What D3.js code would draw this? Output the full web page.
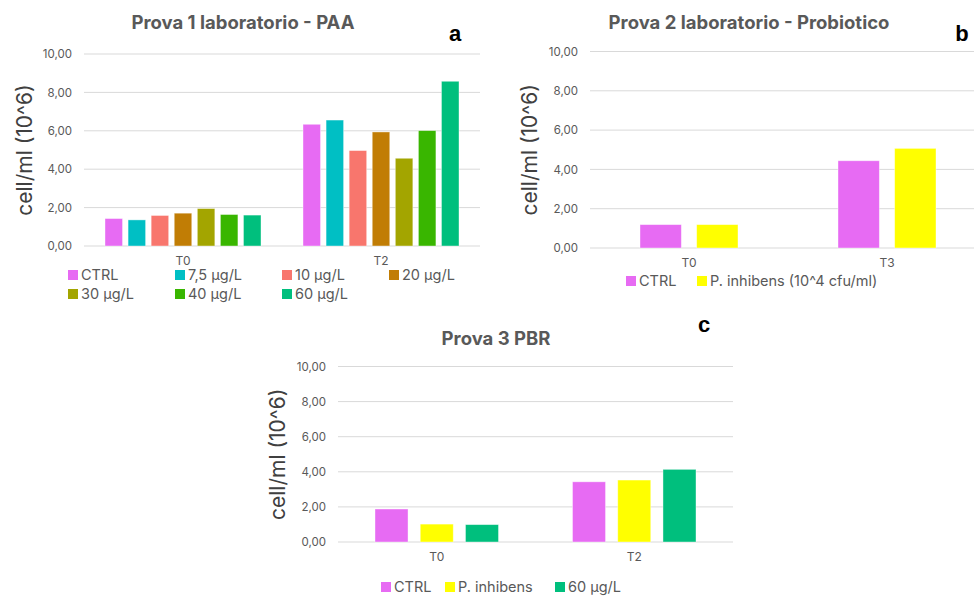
<!DOCTYPE html>
<html>
<head>
<meta charset="utf-8">
<script src="https://cdn.jsdelivr.net/npm/d3@7"></script>
<style>
  body { margin: 0; background: #fff; }
  svg { display: block; font-family: Inter, "Noto Sans", sans-serif; }
</style>
</head>
<body>
<svg id="chart" width="974" height="596"></svg>
<script>
// ---- Data ----
const yTicks = [0, 2, 4, 6, 8, 10];

// Chart a: Prova 1 laboratorio - PAA
const categoriesA = ["T0", "T2"];
const seriesA = ["CTRL", "7,5 µg/L", "10 µg/L", "20 µg/L", "30 µg/L", "40 µg/L", "60 µg/L"];
const valuesA = [
  [1.43, 6.34],   // CTRL
  [1.36, 6.56],   // 7,5
  [1.59, 4.97],   // 10
  [1.71, 5.94],   // 20
  [1.95, 4.57],   // 30
  [1.64, 6.01],   // 40
  [1.61, 8.58]    // 60
];
const colorsA = ["#E76BF3", "#00BFC4", "#F8766D", "#C17D05", "#A3A500", "#39B600", "#00BF7D"];

// Chart b: Prova 2 laboratorio - Probiotico
const categoriesB = ["T0", "T3"];
const seriesB = ["CTRL", "P. inhibens (10^4 cfu/ml)"];
const valuesB = [
  [1.19, 4.44],
  [1.19, 5.07]
];
const colorsB = ["#E76BF3", "#FFFF00"];

// Chart c: Prova 3 PBR
const categoriesC = ["T0", "T2"];
const seriesC = ["CTRL", "P. inhibens", "60 µg/L"];
const valuesC = [
  [1.88, 3.43],
  [1.02, 3.53],
  [0.99, 4.14]
];
const colorsC = ["#E76BF3", "#FFFF00", "#00BF7D"];

// ---- Drawing ----
const svg = d3.select("#chart");
const fmt = v => d3.format(".2f")(v).replace(".", ",");

function drawChart(cfg) {
  const g = svg.append("g");
  const y = d3.scaleLinear().domain([0, 10]).range([cfg.y0, cfg.y1]);
  const x0 = d3.scaleBand().domain(cfg.categories).range([cfg.x0, cfg.x1]).padding(0);
  const inner = d3.scaleBand().domain(cfg.series)
    .range([cfg.innerPad, x0.bandwidth() - cfg.innerPad]).paddingInner(cfg.barGap);

  // gridlines
  g.selectAll(".grid").data(yTicks).join("line")
    .attr("x1", cfg.x0).attr("x2", cfg.x1)
    .attr("y1", d => y(d)).attr("y2", d => y(d))
    .attr("stroke", "#D9D9D9").attr("stroke-width", 1);

  // y axis via d3 axis (labels only)
  const yAxis = d3.axisLeft(y).tickValues(yTicks).tickFormat(fmt).tickSize(0).tickPadding(12);
  const ya = g.append("g").attr("transform", `translate(${cfg.x0},0)`).call(yAxis);
  ya.select(".domain").remove();
  ya.selectAll("text").attr("fill", "#595959").style("font-size", "11.5px")
    .style("font-family", "Inter, 'Noto Sans', sans-serif");

  // x axis labels
  const xAxis = d3.axisBottom(x0).tickSize(0).tickPadding(cfg.xLabelPad);
  const xa = g.append("g").attr("transform", `translate(0,${cfg.y0})`).call(xAxis);
  xa.select(".domain").remove();
  xa.selectAll("text").attr("fill", "#595959").style("font-size", "12px")
    .style("font-family", "Inter, 'Noto Sans', sans-serif");

  // bars
  cfg.series.forEach((s, si) => {
    g.selectAll(null).data(cfg.categories).join("rect")
      .attr("x", c => x0(c) + inner(s))
      .attr("width", inner.bandwidth())
      .attr("y", (c, ci) => y(cfg.values[si][ci]))
      .attr("height", (c, ci) => y(0) - y(cfg.values[si][ci]))
      .attr("fill", cfg.colors[si])
      .attr("stroke", "#ffffff").attr("stroke-opacity", 0.5).attr("stroke-width", 0.8);
  });

  // title
  g.append("text").attr("x", cfg.titleX).attr("y", cfg.titleY)
    .attr("text-anchor", "middle").attr("fill", "#595959")
    .style("font-size", "18.5px").style("font-weight", "bold")
    .text(cfg.title);

  // panel letter
  g.append("text").attr("x", cfg.letterX).attr("y", cfg.letterY)
    .attr("text-anchor", "middle").attr("fill", "#000")
    .style("font-size", "22px").style("font-weight", "bold")
    .style("font-family", "Arial, 'Liberation Sans', sans-serif")
    .text(cfg.letter);

  // y axis title
  g.append("text")
    .attr("transform", `translate(${cfg.yTitleX},${(cfg.y0 + cfg.y1) / 2}) rotate(-90)`)
    .attr("text-anchor", "middle").attr("fill", "#404040")
    .style("font-size", "21px")
    .text("cell/ml (10^6)");

  // legend
  cfg.series.forEach((s, si) => {
    const pos = cfg.legendPos[si];
    g.append("rect").attr("x", pos[0]).attr("y", pos[1] - 10)
      .attr("width", 10).attr("height", 10).attr("fill", cfg.colors[si]);
    g.append("text").attr("x", pos[0] + 13).attr("y", pos[1])
      .attr("fill", "#595959").style("font-size", "14.5px").text(s);
  });
}

drawChart({
  title: "Prova 1 laboratorio - PAA", titleX: 243, titleY: 29,
  letter: "a", letterX: 455, letterY: 41,
  categories: categoriesA, series: seriesA, values: valuesA, colors: colorsA,
  x0: 84, x1: 480, y0: 246, y1: 54, innerPad: 21, barGap: 0.24, xLabelPad: 10,
  yTitleX: 32,
  legendPos: [[68, 280], [175, 280], [282, 280], [389, 280], [68, 299], [175, 299], [282, 299]]
});

drawChart({
  title: "Prova 2 laboratorio - Probiotico", titleX: 749, titleY: 29,
  letter: "b", letterX: 962, letterY: 41,
  categories: categoriesB, series: seriesB, values: valuesB, colors: colorsB,
  x0: 590, x1: 986, y0: 248, y1: 51.5, innerPad: 50, barGap: 0.27, xLabelPad: 10,
  yTitleX: 537,
  legendPos: [[626, 286], [697, 286]]
});

drawChart({
  title: "Prova 3 PBR", titleX: 496, titleY: 345,
  letter: "c", letterX: 704, letterY: 332,
  categories: categoriesC, series: seriesC, values: valuesC, colors: colorsC,
  x0: 338, x1: 733, y0: 542, y1: 366.5, innerPad: 37, barGap: 0.27, xLabelPad: 10,
  yTitleX: 285,
  legendPos: [[381, 592], [445, 592], [555, 592]]
});
</script>
</body>
</html>
